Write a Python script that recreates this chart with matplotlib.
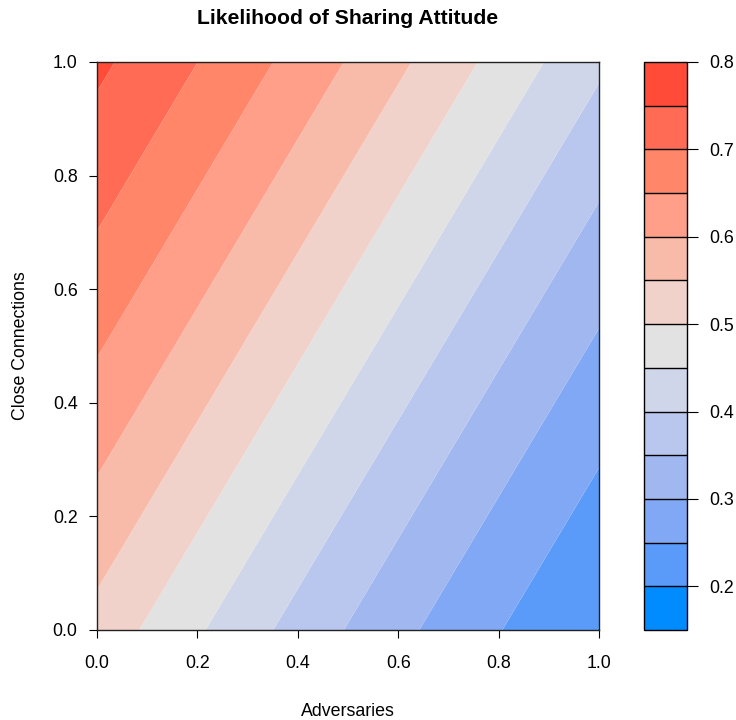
import numpy as np
import matplotlib
matplotlib.use("Agg")
import matplotlib.pyplot as plt
from matplotlib.colors import ListedColormap, BoundaryNorm

# ---- data ----
title = "Likelihood of Sharing Attitude"
x_label = "Adversaries"
y_label = "Close Connections"
# fitted logistic surface: logit(p) = b0 + b_adv * Adversaries + b_close * CloseConnections
coef_intercept = 0.128
coef_adversaries = -1.519
coef_close = 1.024
levels = [0.15, 0.20, 0.25, 0.30, 0.35, 0.40, 0.45, 0.50, 0.55, 0.60, 0.65, 0.70, 0.75, 0.80]
level_colors = ["#008CFF", "#5A9BFA", "#80A8F5", "#A0B7F0", "#B9C7EE", "#D0D6EA",
                "#E2E2E2", "#F1D2CA", "#F8BBAA", "#FF9F8A", "#FF8669", "#FF6B54", "#FF4B38"]
axis_ticks = [0.0, 0.2, 0.4, 0.6, 0.8, 1.0]
colorbar_ticks = [0.2, 0.3, 0.4, 0.5, 0.6, 0.7, 0.8]

plt.rcParams['font.family'] = ['Liberation Sans', 'DejaVu Sans']

W, H = 736, 720
fig = plt.figure(figsize=(W / 100, H / 100), dpi=100)

ax = fig.add_axes([97 / W, 1 - 630 / H, 502 / W, 568 / H])
cax = fig.add_axes([644 / W, 1 - 630 / H, 43 / W, 568 / H])

gx = np.linspace(0, 1, 301)
gy = np.linspace(0, 1, 301)
X, Y = np.meshgrid(gx, gy)
Z = 1.0 / (1.0 + np.exp(-(coef_intercept + coef_adversaries * X + coef_close * Y)))

cmap = ListedColormap(level_colors)
norm = BoundaryNorm(levels, cmap.N)
cf = ax.contourf(X, Y, Z, levels=levels, cmap=cmap, norm=norm, antialiased=True)

ax.set_xlim(0, 1)
ax.set_ylim(0, 1)
ax.set_xticks(axis_ticks)
ax.set_yticks(axis_ticks)
ax.set_xticklabels([f"{t:.1f}" for t in axis_ticks])
ax.set_yticklabels([f"{t:.1f}" for t in axis_ticks])
ax.tick_params(axis='both', direction='out', length=6, width=0.8, labelsize=12.8,
               top=False, right=False, pad=12)
ax.tick_params(axis='y', pad=8)
for s in ax.spines.values():
    s.set_linewidth(1.0)
    s.set_color("#222222")

ax.set_xlabel(x_label, fontsize=12.8, labelpad=22)
ax.set_ylabel(y_label, fontsize=12.8, labelpad=17)
fig.text(348 / W, 1 - 18 / H, title, ha='center', va='center', fontsize=15.2, fontweight='bold')

cb = fig.colorbar(cf, cax=cax, orientation='vertical', drawedges=True)
cb.outline.set_linewidth(1.0)
cb.outline.set_edgecolor("black")
cb.dividers.set_color("black")
cb.dividers.set_linewidth(1.0)
cb.set_ticks(colorbar_ticks)
cb.set_ticklabels([f"{t:.1f}" for t in colorbar_ticks])
cax.minorticks_off()
cax.tick_params(which='both', direction='out', length=8, width=0.8, labelsize=12.8, pad=8)
cax.tick_params(which='minor', length=0)
cax.set_ylim(0.15, 0.8)

fig.savefig("out.png", dpi=100)
